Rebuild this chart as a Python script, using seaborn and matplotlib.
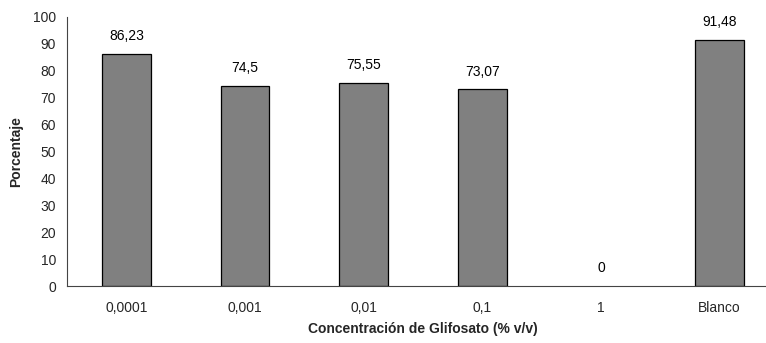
import matplotlib
matplotlib.use("Agg")
import matplotlib.pyplot as plt
import seaborn as sns
import pandas as pd
import numpy as np

categories = ["0,0001", "0,001", "0,01", "0,1", "1", "Blanco"]
values = [86.23, 74.5, 75.55, 73.07, 0.0, 91.48]
value_labels = ["86,23", "74,5", "75,55", "73,07", "0", "91,48"]
y_ticks = [0, 10, 20, 30, 40, 50, 60, 70, 80, 90, 100]

sns.set_theme(style="white")
plt.rcParams["font.family"] = ["Liberation Sans", "DejaVu Sans"]

df = pd.DataFrame({"Concentracion": categories, "Porcentaje": values})

fig = plt.figure(figsize=(7.66, 3.43), dpi=100)
ax = fig.add_axes([67 / 766, 57 / 343, 712 / 766, 269 / 343])

sns.barplot(data=df, x="Concentracion", y="Porcentaje", order=categories,
            color="#808080", saturation=1, width=0.41,
            edgecolor="black", linewidth=0.9, ax=ax)

# a zero-height bar leaves no visible outline
for p in ax.patches:
    if p.get_height() == 0:
        p.set_linewidth(0)

ax.set_ylim(0, 100)
ax.set_xlim(-0.5, len(categories) - 0.5)
ax.set_yticks(y_ticks)
ax.set_yticklabels([str(t) for t in y_ticks], fontsize=10)

# category labels on minor ticks, separators on major ticks
ax.set_xticks(np.arange(-0.5, len(categories), 1.0))
ax.set_xticklabels([])
ax.set_xticks(np.arange(len(categories)), minor=True)
ax.set_xticklabels(categories, minor=True, fontsize=10)
ax.tick_params(axis="x", which="major", direction="out", length=4, width=0.8, color="#444444")
ax.tick_params(axis="x", which="minor", length=0, pad=11)
ax.tick_params(axis="y", direction="out", length=4, width=0.8, color="#444444", pad=4)

for s in ["top", "right"]:
    ax.spines[s].set_visible(False)
for s in ["left", "bottom"]:
    ax.spines[s].set_color("#444444")
    ax.spines[s].set_linewidth(0.8)

for i, (v, lab) in enumerate(zip(values, value_labels)):
    ax.text(i, v + 4, lab, ha="center", va="bottom", fontsize=10, color="black")

ax.set_ylabel("Porcentaje", fontsize=10, fontweight="bold", labelpad=7)
ax.set_xlabel("Concentración de Glifosato (% v/v)", fontsize=10, fontweight="bold", labelpad=5)

fig.savefig("out.png", dpi=100)
